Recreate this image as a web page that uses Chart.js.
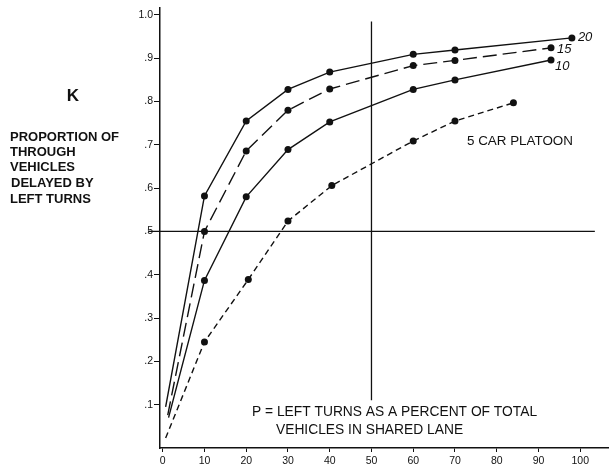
<!DOCTYPE html>
<html>
<head>
<meta charset="utf-8">
<script src="https://cdn.jsdelivr.net/npm/chart.js@4/dist/chart.umd.min.js"></script>
<style>
  html, body { margin: 0; padding: 0; background: #fff; }
  #wrap { width: 612px; height: 468px; position: relative; }
</style>
</head>
<body>
<div id="wrap"><canvas id="kChart"></canvas></div>
<script>
// P = left turns as percent of total vehicles in shared lane
const xTicks = [0, 10, 20, 30, 40, 50, 60, 70, 80, 90, 100];
const yTicks = [0.1, 0.2, 0.3, 0.4, 0.5, 0.6, 0.7, 0.8, 0.9, 1.0];

// platoon sizes (curve labels)
const platoons = ['20', '15', '10', '5'];

// x = P, y = K
const p20 = [0.7, 10, 20, 30, 40, 60, 70, 98];
const k20 = [0.095, 0.582, 0.755, 0.828, 0.868, 0.909, 0.919, 0.947];
const p15 = [1.2, 10, 20, 30, 40, 60, 70, 93];
const k15 = [0.076, 0.5, 0.686, 0.78, 0.829, 0.883, 0.895, 0.924];
const p10 = [1.4, 10, 20, 30, 40, 60, 70, 93];
const k10 = [0.07, 0.387, 0.58, 0.689, 0.753, 0.828, 0.85, 0.896];
const p5 = [0.7, 10, 20.5, 30, 40.5, 60, 70, 84];
const k5 = [0.023, 0.245, 0.389, 0.524, 0.606, 0.709, 0.755, 0.797];

// reference lines
const vLineP = [50, 50];
const vLineK = [0.11, 0.985];
const hLineP = [-3.5, 103.5];
const hLineK = [0.5, 0.5];

const ink = '#111';
const sans = '"Liberation Sans", Arial, sans-serif';

function pts(xs, ys) {
    return xs.map((x, i) => ({ x: x, y: ys[i] }));
}

// first point of every curve has no dot
function dots(n) {
    return Array.from({ length: n }, (_, i) => i === 0 ? 0 : 3.5);
}

function curve(label, xs, ys, dash) {
    return {
        label: label,
        data: pts(xs, ys),
        borderColor: ink,
        backgroundColor: ink,
        borderWidth: 1.4,
        borderDash: dash,
        pointRadius: dots(xs.length),
        pointBorderWidth: 0,
        tension: 0,
        fill: false
    };
}

function refLine(xs, ys) {
    return {
        data: pts(xs, ys),
        borderColor: ink,
        borderWidth: 1.3,
        pointRadius: 0,
        clip: false
    };
}

// labels at the end of the curves + free text
const textPlugin = {
    id: 'texts',
    afterDraw(chart) {
        const ctx = chart.ctx;
        ctx.save();
        ctx.fillStyle = ink;
        ctx.textBaseline = 'middle';
        ctx.textAlign = 'left';

        const offs = [[6, 0], [6, 2], [4, 6]];
        ctx.font = 'italic 13px ' + sans;
        for (let i = 0; i < 3; i++) {
            const meta = chart.getDatasetMeta(i);
            const last = meta.data[meta.data.length - 1];
            ctx.fillText(platoons[i], last.x + offs[i][0], last.y + offs[i][1]);
        }

        ctx.font = '13.4px ' + sans;
        ctx.fillText(platoons[3] + ' CAR PLATOON', 467, 141);
        ctx.font = '13.8px ' + sans;
        ctx.fillText('P = LEFT TURNS AS A PERCENT OF TOTAL', 252, 412);
        ctx.fillText('VEHICLES IN SHARED LANE', 276, 430);

        ctx.font = 'bold 17px ' + sans;
        ctx.textAlign = 'center';
        ctx.fillText('K', 73, 96);

        ctx.textAlign = 'left';
        ctx.font = 'bold 13px ' + sans;
        ctx.fillText('PROPORTION OF', 10, 137);
        ctx.fillText('THROUGH', 10, 152);
        ctx.fillText('VEHICLES', 10, 167);
        ctx.fillText('DELAYED BY', 11, 183);
        ctx.fillText('LEFT TURNS', 10, 199);
        ctx.restore();
    }
};

function createChart() {
    const ctx = document.getElementById('kChart').getContext('2d');
    new Chart(ctx, {
        type: 'line',
        data: {
            datasets: [
                curve(platoons[0], p20, k20, []),
                curve(platoons[1], p15, k15, [14, 6]),
                curve(platoons[2], p10, k10, []),
                curve(platoons[3], p5, k5, [6, 4]),
                refLine(vLineP, vLineK),
                refLine(hLineP, hLineK)
            ]
        },
        options: {
            responsive: true,
            maintainAspectRatio: false,
            animation: false,
            layout: { padding: { left: 130, top: 8, right: 1, bottom: 0 } },
            plugins: {
                legend: { display: false },
                tooltip: { enabled: false }
            },
            scales: {
                x: {
                    type: 'linear',
                    min: -0.65,
                    max: 106.65,
                    afterBuildTicks: s => { s.ticks = xTicks.map(v => ({ value: v })); },
                    afterFit: s => { s.height = 20; },
                    border: { display: true, color: ink, width: 1.5 },
                    grid: { drawOnChartArea: false, drawTicks: true, tickLength: 4, color: ink },
                    ticks: {
                        color: ink,
                        padding: 3,
                        maxRotation: 0,
                        font: { family: sans, size: 10.5 },
                        callback: v => String(v)
                    }
                },
                y: {
                    type: 'linear',
                    min: 0,
                    max: 1.016,
                    afterBuildTicks: s => { s.ticks = yTicks.map(v => ({ value: v })); },
                    afterFit: s => { s.width = 30; },
                    border: { display: true, color: ink, width: 1.5 },
                    grid: { drawOnChartArea: false, drawTicks: true, tickLength: 6, color: ink },
                    ticks: {
                        color: ink,
                        padding: 1,
                        font: { family: sans, size: 10.5 },
                        callback: v => v >= 0.99 ? '1.0' : '.' + Math.round(v * 10)
                    }
                }
            }
        },
        plugins: [textPlugin]
    });
}

window.onload = createChart;
</script>
</body>
</html>
